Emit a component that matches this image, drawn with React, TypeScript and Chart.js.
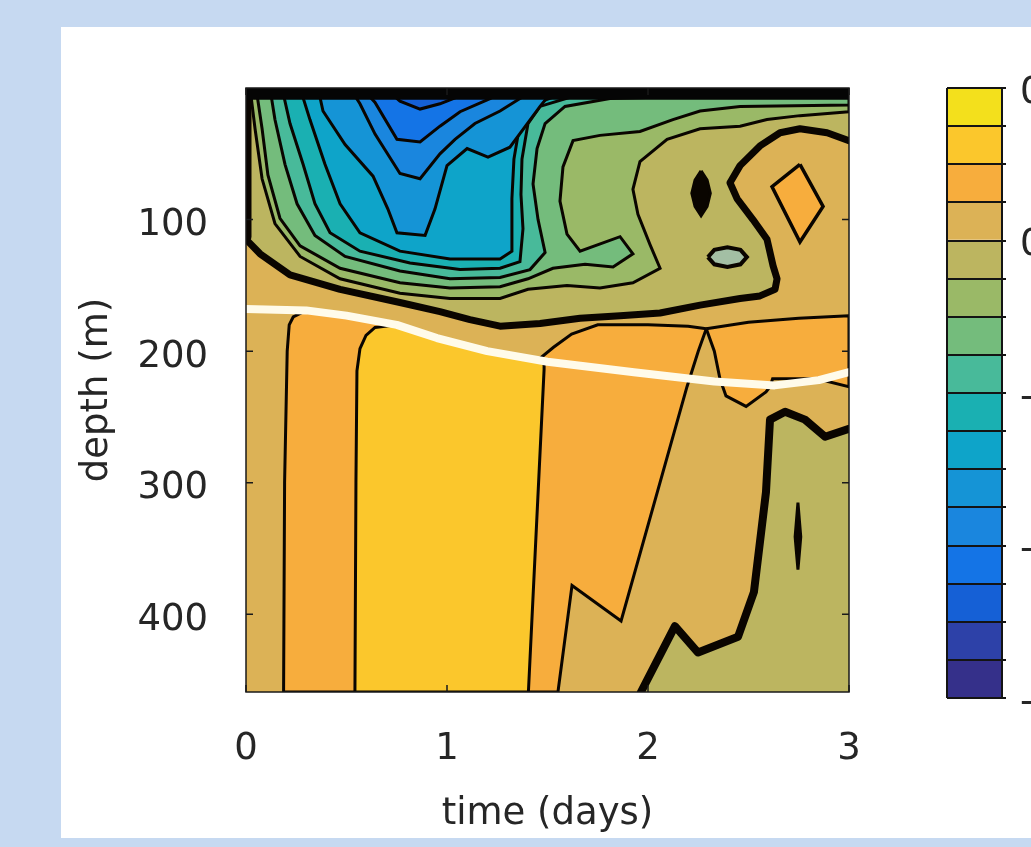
import React, { useEffect, useRef } from "react";
import { Chart, registerables } from "chart.js";

Chart.register(...registerables);

const FONT = "'DejaVu Sans', sans-serif";
const TEXT = "#262626";

// axes
const timeRange = [0, 3];
const depthRange = [0, 459];
const timeTicks = [0, 1, 2, 3];
const depthTicks = [100, 200, 300, 400];
const timeTitle = "time (days)";
const depthTitle = "depth (m)";

// colour levels (top of colour bar first)
const levelColors = [
  "#f3e01c", "#fbc72c", "#f7ad3d", "#dcb256", "#bcb560", "#9ab967", "#74bc7c", "#48ba9a",
  "#1ab0b2", "#0ea4c9", "#1594d6", "#1a86de", "#1474e6", "#1560d6", "#2d41a8", "#35308a",
];
const colorbarBounds = [0.2, 0.15, 0.1, 0.05, 0, -0.05, -0.1, -0.15, -0.2, -0.25, -0.3, -0.35, -0.4, -0.45, -0.5, -0.55, -0.6];
const colorbarTickValues = [0.2, 0, -0.2, -0.4, -0.6];
const colorbarTickLabels = ["0.2", "0", "-0.2", "-0.4", "-0.6"];

// contour regions: [time (days), depth (m)]
const orangeMain: number[][] = [
  [0.187, 459], [0.192, 300], [0.205, 200], [0.215, 180], [0.235, 174], [0.3, 169], [0.5, 173],
  [0.75, 180], [0.95, 190], [1.2, 200], [1.45, 207], [1.53, 197], [1.62, 187], [1.75, 180],
  [2.0, 180], [2.2, 181], [2.29, 183], [2.25, 200], [2.194, 227], [1.866, 405], [1.622, 378], [1.552, 459],
];
const orangeRight: number[][] = [
  [2.29, 183], [2.5, 178], [2.75, 175], [3, 173], [3, 227], [2.84, 221], [2.62, 221], [2.607, 227],
  [2.587, 231], [2.488, 242], [2.388, 234], [2.358, 221], [2.33, 200],
];
const yellowCore: number[][] = [
  [0.542, 459], [0.547, 300], [0.552, 215], [0.567, 198], [0.597, 188], [0.642, 182], [0.75, 180],
  [0.95, 190], [1.2, 200], [1.483, 208], [1.483, 214], [1.405, 459],
];
const khakiDeep: number[][] = [
  [1.965, 459], [2.134, 409], [2.249, 429], [2.448, 417], [2.527, 383], [2.587, 307], [2.607, 252],
  [2.682, 246], [2.781, 252], [2.881, 265], [3, 259], [3, 459],
];
const deepBlob: number[][] = [
  [2.746, 315], [2.754, 330], [2.76, 341], [2.754, 352], [2.746, 366], [2.738, 352], [2.732, 341], [2.738, 330],
];
const khakiUpper: number[][] = [
  [0, 0], [0, 115], [0.07, 126], [0.219, 142], [0.468, 153], [0.766, 163], [0.965, 170], [1.114, 176],
  [1.264, 181], [1.463, 179], [1.662, 175], [1.861, 173], [2.06, 171], [2.259, 165], [2.458, 160],
  [2.557, 158], [2.632, 153], [2.642, 145], [2.622, 135], [2.592, 115], [2.522, 100], [2.443, 84],
  [2.408, 72], [2.458, 59], [2.557, 44], [2.657, 34], [2.756, 31], [2.891, 34], [3, 40], [3, 0],
];
const level6: number[][] = [
  [0.02, 0], [0.045, 31], [0.08, 69], [0.144, 103], [0.269, 128], [0.468, 145], [0.766, 156], [1.015, 160],
  [1.264, 160], [1.403, 153], [1.597, 150], [1.761, 152], [1.925, 148], [2.06, 137], [2.01, 119],
  [1.95, 96], [1.925, 77], [1.96, 56], [2.095, 39], [2.259, 31], [2.458, 29], [2.592, 24], [2.756, 21],
  [3, 18], [3, 0],
];
const level7: number[][] = [
  [0.05, 0], [0.08, 31], [0.109, 66], [0.169, 99], [0.269, 120], [0.468, 137], [0.766, 148], [1.015, 152],
  [1.264, 151], [1.403, 145], [1.527, 137], [1.687, 134], [1.826, 136], [1.925, 126], [1.861, 113],
  [1.662, 124], [1.597, 111], [1.562, 86], [1.577, 60], [1.627, 40], [1.761, 36], [1.96, 33],
  [2.124, 24], [2.259, 17.5], [2.458, 14], [3, 13], [3, 0],
];
const level8: number[][] = [
  [0.119, 0], [0.144, 24], [0.194, 58], [0.254, 88], [0.343, 112], [0.493, 128], [0.766, 139], [1.015, 145],
  [1.264, 144], [1.413, 138], [1.488, 125], [1.453, 100], [1.428, 73], [1.448, 46], [1.488, 27],
  [1.587, 14], [1.811, 8], [2.259, 6], [3, 5], [3, 0],
];
const level9: number[][] = [
  [0.179, 0], [0.219, 27], [0.284, 58], [0.343, 88], [0.418, 110], [0.567, 124], [0.816, 133], [1.065, 138],
  [1.264, 137], [1.363, 132], [1.378, 107], [1.368, 81], [1.373, 54], [1.403, 27], [1.463, 14],
  [1.612, 7], [1.96, 5], [2.259, 0],
];
const level10: number[][] = [
  [0.269, 0], [0.318, 24], [0.393, 58], [0.468, 88], [0.567, 110], [0.766, 124], [1.015, 130], [1.264, 130],
  [1.323, 124], [1.323, 84], [1.333, 54], [1.363, 27], [1.438, 12], [1.562, 5], [1.761, 0],
];
const level11: number[][] = [
  [0.358, 0], [0.383, 17.5], [0.493, 43], [0.632, 67], [0.706, 92], [0.751, 110], [0.891, 112], [0.94, 92],
  [1.0, 59], [1.1, 46], [1.204, 52.5], [1.313, 45], [1.463, 14], [1.537, 0],
];
const level12: number[][] = [
  [0.517, 0], [0.567, 12], [0.642, 35], [0.766, 65], [0.866, 69], [0.965, 50], [1.04, 39], [1.139, 27],
  [1.264, 17.5], [1.363, 8], [1.463, 0],
];
const level13: number[][] = [
  [0.577, 0], [0.642, 11], [0.751, 39], [0.866, 41], [0.965, 29], [1.065, 18], [1.214, 8], [1.313, 0],
];
const level14: number[][] = [
  [0.692, 0], [0.766, 10], [0.866, 16], [0.965, 12], [1.065, 6], [1.139, 0],
];
const diamond: number[][] = [[2.756, 58], [2.871, 90], [2.756, 117], [2.617, 75]];
const smallEllipse: number[][] = [
  [2.298, 128.5], [2.33, 123], [2.395, 121], [2.46, 123], [2.492, 128.5], [2.46, 134], [2.395, 136], [2.33, 134],
];
const upperBlob: number[][] = [
  [2.264, 63], [2.294, 70], [2.31, 80], [2.294, 90], [2.264, 97], [2.234, 90], [2.218, 80], [2.234, 70],
];
const whiteLine: number[][] = [
  [0, 168], [0.3, 169], [0.5, 173], [0.75, 180], [0.95, 190], [1.2, 200], [1.5, 208], [1.93, 216],
  [2.33, 223], [2.63, 226], [2.85, 222], [3, 216],
];
const surfaceBand: number[][] = [[0, 4], [3, 4]];
const leftEdgeBand: number[][] = [[0, 0], [0, 113]];

const toXY = (pts: number[][]) => pts.map(([t, d]) => ({ x: t, y: d }));

function region(pts: number[][], color: string, border: number) {
  return {
    data: toXY([...pts, pts[0]]),
    showLine: true,
    pointRadius: 0,
    tension: 0,
    fill: "shape",
    backgroundColor: color,
    borderColor: "#0a0500",
    borderWidth: border,
    clip: 0,
  };
}
function contourLine(pts: number[][], color: string, width: number) {
  return {
    data: toXY(pts),
    showLine: true,
    pointRadius: 0,
    tension: 0,
    fill: false,
    borderColor: color,
    borderWidth: width,
    borderCapStyle: "round",
    borderJoinStyle: "round",
    clip: 0,
  };
}

const plotFrame = {
  id: "plotFrame",
  beforeDatasetsDraw(chart: any) {
    const { ctx, chartArea: a } = chart;
    ctx.save();
    ctx.fillStyle = levelColors[3];
    ctx.fillRect(a.left, a.top, a.right - a.left, a.bottom - a.top);
    ctx.restore();
  },
  afterDatasetsDraw(chart: any) {
    const { ctx, chartArea: a, scales } = chart;
    ctx.save();
    ctx.strokeStyle = "#1a1a1a";
    ctx.lineWidth = 1.5;
    ctx.strokeRect(a.left, a.top, a.right - a.left, a.bottom - a.top);
    ctx.beginPath();
    timeTicks.forEach((v) => {
      const x = scales.x.getPixelForValue(v);
      ctx.moveTo(x, a.bottom); ctx.lineTo(x, a.bottom - 7);
      ctx.moveTo(x, a.top); ctx.lineTo(x, a.top + 7);
    });
    depthTicks.forEach((v) => {
      const y = scales.y.getPixelForValue(v);
      ctx.moveTo(a.left, y); ctx.lineTo(a.left + 7, y);
      ctx.moveTo(a.right, y); ctx.lineTo(a.right - 7, y);
    });
    ctx.stroke();
    ctx.restore();
  },
};

export default function App() {
  const mainRef = useRef<HTMLCanvasElement>(null);
  const barRef = useRef<HTMLCanvasElement>(null);

  useEffect(() => {
    Chart.defaults.font.family = FONT;
    const painter: any[] = [
      region(orangeMain, levelColors[2], 3),
      region(orangeRight, levelColors[2], 3),
      region(yellowCore, levelColors[1], 3),
      region(khakiDeep, levelColors[4], 0),
      contourLine(khakiDeep.slice(0, khakiDeep.length - 1), "#0a0500", 8),
      region(deepBlob, "#0a0500", 3),
      region(khakiUpper, levelColors[4], 0),
      region(level6, levelColors[5], 3),
      region(level7, levelColors[6], 3),
      region(level8, levelColors[7], 3),
      region(level9, levelColors[8], 3),
      region(level10, levelColors[9], 3),
      region(level11, levelColors[10], 3),
      region(level12, levelColors[11], 3),
      region(level13, levelColors[12], 3),
      region(level14, levelColors[13], 3),
      region(diamond, levelColors[2], 3.5),
      region(smallEllipse, "#a3bfa4", 4),
      region(upperBlob, "#0a0500", 3),
      contourLine(khakiUpper.slice(0, khakiUpper.length - 1), "#0a0500", 7),
      contourLine(leftEdgeBand, "#0a0500", 11),
      contourLine(whiteLine, "#fffbea", 8),
      contourLine(surfaceBand, "#050505", 13),
    ];
    painter.forEach((d, i) => (d.order = -i));

    const main = new Chart(mainRef.current!, {
      type: "scatter",
      data: { datasets: painter },
      options: {
        animation: false,
        responsive: false,
        devicePixelRatio: 1,
        events: [],
        layout: { padding: { left: 0, top: 88, right: 182, bottom: 0 } },
        plugins: { legend: { display: false }, tooltip: { enabled: false } },
        scales: {
          x: {
            type: "linear",
            min: timeRange[0],
            max: timeRange[1],
            afterBuildTicks: (s: any) => { s.ticks = timeTicks.map((v) => ({ value: v })); },
            afterFit: (s: any) => { s.height = 155; },
            grid: { display: false },
            border: { display: false },
            ticks: { padding: 27, color: TEXT, font: { size: 37 }, maxRotation: 0, autoSkip: false },
            title: { display: true, text: timeTitle, color: TEXT, font: { size: 37 }, padding: { top: 0, bottom: 10 } },
          },
          y: {
            type: "linear",
            reverse: true,
            min: depthRange[0],
            max: depthRange[1],
            afterBuildTicks: (s: any) => { s.ticks = depthTicks.map((v) => ({ value: v })); },
            afterFit: (s: any) => { s.width = 246; },
            grid: { display: false },
            border: { display: false },
            ticks: { padding: 30, labelOffset: 6, color: TEXT, font: { size: 37 }, autoSkip: false },
            title: { display: true, text: depthTitle, color: TEXT, font: { size: 37 }, padding: { top: 75, bottom: 0 } },
          },
        },
      } as any,
      plugins: [plotFrame],
    });

    const barSets = levelColors.map((c, i) => ({
      data: [[colorbarBounds[i + 1], colorbarBounds[i]]],
      backgroundColor: c,
      borderWidth: 0,
      barPercentage: 1,
      categoryPercentage: 1,
      grouped: false,
    }));
    const bar = new Chart(barRef.current!, {
      type: "bar",
      data: { labels: [""], datasets: barSets as any },
      options: {
        animation: false,
        responsive: false,
        devicePixelRatio: 1,
        events: [],
        layout: { padding: { left: 47, top: 88, right: 0, bottom: 149 } },
        plugins: { legend: { display: false }, tooltip: { enabled: false } },
        scales: {
          x: {
            display: true,
            grid: { display: true, color: "#141414", lineWidth: 2, drawTicks: false, offset: true, z: 1 },
            ticks: { display: false },
            border: { display: false },
            afterFit: (s: any) => { s.height = 0; },
          },
          y: {
            position: "right",
            min: colorbarBounds[colorbarBounds.length - 1],
            max: colorbarBounds[0],
            afterBuildTicks: (s: any) => { s.ticks = colorbarBounds.map((v) => ({ value: v })); },
            afterFit: (s: any) => { s.width = 98; },
            grid: { color: "#141414", lineWidth: 2, tickLength: 4, z: 1 },
            border: { display: true, color: "#141414", width: 2, z: 1 },
            ticks: {
              padding: 14,
              labelOffset: 5,
              color: TEXT,
              font: { size: 37 },
              autoSkip: false,
              callback: (v: any) => {
                const k = colorbarTickValues.findIndex((t) => Math.abs(t - Number(v)) < 1e-6);
                return k >= 0 ? colorbarTickLabels[k] : "";
              },
            },
          },
        },
      } as any,
    });

    return () => {
      main.destroy();
      bar.destroy();
    };
  }, []);

  return (
    <div style={{ position: "fixed", left: 0, top: 0, width: 1031, height: 847, overflow: "hidden", background: "#c6d9f1" }}>
      <div style={{ position: "absolute", left: 61, top: 27, width: 970, height: 811, background: "#ffffff" }} />
      <canvas ref={mainRef} width={1031} height={847} style={{ position: "absolute", left: 0, top: 0 }} />
      <canvas ref={barRef} width={200} height={847} style={{ position: "absolute", left: 900, top: 0 }} />
    </div>
  );
}
